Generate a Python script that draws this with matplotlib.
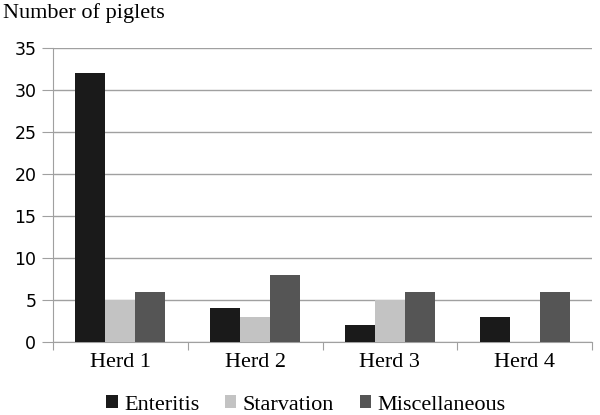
import numpy as np
import matplotlib
matplotlib.use("Agg")
import matplotlib.pyplot as plt

herds = ["Herd 1", "Herd 2", "Herd 3", "Herd 4"]
causes = ["Enteritis", "Starvation", "Miscellaneous"]
enteritis = [32, 4, 2, 3]
starvation = [5, 3, 5, 0]
miscellaneous = [6, 8, 6, 6]
colors = ["#1a1a1a", "#c3c3c3", "#555555"]

plt.rcParams["font.family"] = ["Liberation Serif", "DejaVu Serif"]

fig = plt.figure(figsize=(6.0, 4.15), dpi=100)
ax = fig.add_axes([53 / 600, 1 - 342 / 415, 539 / 600, 294 / 415])

x = np.arange(len(herds))
w = 1 / 4.5
series = [enteritis, starvation, miscellaneous]
for i, (vals, name) in enumerate(zip(series, causes)):
    ax.bar(x + (i - 1) * w, vals, width=w, color=colors[i], label=name, zorder=3)

ax.set_xlim(-0.5, len(herds) - 0.5)
ax.set_ylim(0, 35)
ax.set_yticks(range(0, 36, 5))
for lab in ax.get_yticklabels():
    lab.set_fontfamily("DejaVu Sans")
ax.yaxis.grid(True, color="#a0a0a0", linewidth=1.0, zorder=0)
ax.set_axisbelow(True)

# category ticks sit between the groups
ax.set_xticks(np.arange(-0.5, len(herds), 1.0))
ax.set_xticklabels([])
ax.set_xticks(x, minor=True)
ax.set_xticklabels(herds, minor=True, fontsize=16)
ax.tick_params(axis="x", which="minor", length=0, pad=8)
ax.tick_params(axis="x", which="major", length=6, color="#a0a0a0", direction="out")
ax.tick_params(axis="y", length=8, color="#a0a0a0", labelsize=12.5, pad=4)

for s in ["top", "right"]:
    ax.spines[s].set_visible(False)
ax.spines["left"].set_color("#a0a0a0")
ax.spines["bottom"].set_color("#a0a0a0")

fig.text(3 / 600, 1 - 3 / 415, "Number of piglets", fontsize=16, va="top", ha="left")

leg = fig.legend(loc="center", bbox_to_anchor=(306 / 600, 1 - 405 / 415), ncol=3,
                 frameon=False, fontsize=16,
                 handlelength=0.5, handleheight=0.5, handletextpad=0.3,
                 columnspacing=1.15, borderaxespad=0)

fig.savefig("out.png", dpi=100)
